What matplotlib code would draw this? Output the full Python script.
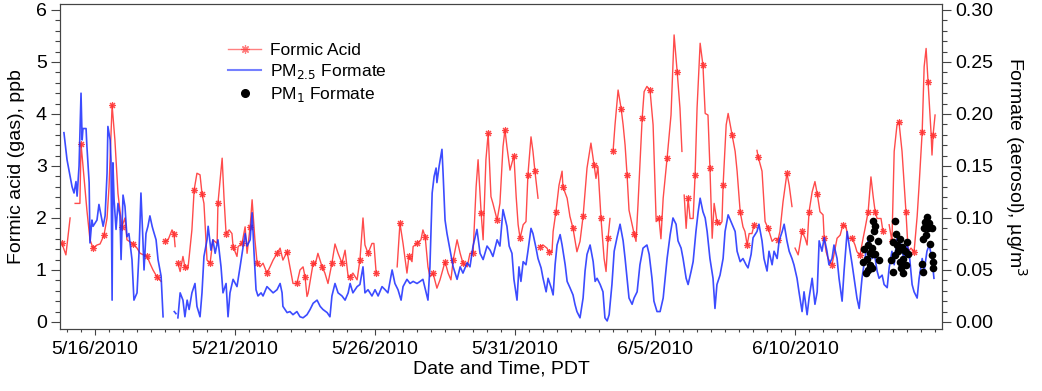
import numpy as np
import matplotlib
matplotlib.use("Agg")
import matplotlib.pyplot as plt
import matplotlib.dates as mdates
from matplotlib.ticker import FixedLocator, MultipleLocator, FormatStrFormatter
from matplotlib.lines import Line2D
from datetime import datetime

nan = np.nan

# days since 5/16/2010 00:00 PDT, value
formic_acid_ppb = [
    (-1.18, 1.51), (-1.04, 1.29), (-0.89, 2.0), (-0.80, nan), (-0.71, 2.28), (-0.54, 2.28),
    (-0.50, 3.43), (-0.29, 2.15), (-0.18, 1.58), (-0.07, 1.42), (0.07, 1.48), (0.18, 1.5),
    (0.32, 1.67), (0.43, 2.0), (0.50, 2.6), (0.61, 4.17), (0.71, 3.5), (0.82, 2.47),
    (0.96, 1.83), (1.07, 2.0), (1.14, 1.58), (1.36, 1.5), (1.50, 1.42), (1.61, 1.32),
    (1.86, 1.26), (1.96, 1.13), (2.07, 1.0), (2.21, 0.87), (2.36, 0.78), (2.43, nan),
    (2.50, 1.55), (2.61, 1.58), (2.75, 1.77), (2.82, 1.7), (2.86, 1.45), (2.91, nan),
    (2.96, 1.13), (3.04, 0.97), (3.14, 1.26), (3.21, 1.06), (3.32, 1.03), (3.46, 1.77),
    (3.54, 2.54), (3.64, 2.86), (3.75, 2.83), (3.82, 2.47), (3.89, 2.28), (4.00, 1.19),
    (4.11, 1.13), (4.21, 1.58), (4.36, 1.51), (4.39, 2.28), (4.54, 3.15), (4.61, 2.35),
    (4.68, 1.7), (4.79, 1.77), (4.89, 1.7), (4.93, 1.45), (5.07, 1.26), (5.11, 1.45),
    (5.25, 1.51), (5.36, 1.83), (5.43, 1.32), (5.54, 1.83), (5.61, 2.35), (5.71, 1.58),
    (5.79, 1.13), (5.89, 1.06), (6.00, 1.13), (6.14, 0.94), (6.25, 1.06), (6.36, 1.19),
    (6.50, 1.32), (6.61, 1.42), (6.71, 1.19), (6.86, 1.35), (6.96, 1.06), (7.07, 0.74),
    (7.21, 0.74), (7.32, 1.0), (7.43, 1.06), (7.50, 0.87), (7.57, 0.49), (7.61, 0.55),
    (7.79, 1.13), (7.86, 1.1), (7.96, 1.32), (8.11, 1.06), (8.21, 0.94), (8.32, 0.74),
    (8.46, 1.13), (8.57, 1.5), (8.68, 1.32), (8.82, 1.13), (8.93, 1.38), (9.04, 0.87),
    (9.11, 0.87), (9.21, 0.94), (9.36, 0.81), (9.46, 1.19), (9.57, 2.0), (9.64, 1.48),
    (9.75, 1.32), (9.89, 1.51), (9.96, 1.51), (10.04, 0.94), (10.40, nan), (10.79, 1.06),
    (10.89, 1.9), (11.00, 1.51), (11.14, 0.94), (11.21, 1.26), (11.32, 1.16), (11.36, 1.45),
    (11.50, 1.51), (11.64, 1.58), (11.71, 1.77), (11.79, 1.64), (11.89, 1.06), (11.96, 0.87),
    (12.07, 0.94), (12.21, 0.65), (12.32, 0.81), (12.50, 1.16), (12.61, 0.94), (12.71, 0.81),
    (12.79, 1.19), (12.93, 1.58), (13.04, 1.32), (13.14, 1.13), (13.29, 1.06), (13.39, 1.32),
    (13.50, 1.32), (13.61, 2.6), (13.68, 3.12), (13.79, 2.09), (13.86, 1.58), (13.96, 3.12),
    (14.04, 3.63), (14.14, 2.41), (14.21, 2.28), (14.36, 1.96), (14.46, 2.28), (14.57, 3.37),
    (14.64, 3.7), (14.71, 3.37), (14.82, 2.92), (14.96, 3.2), (15.04, 2.41), (15.11, 1.87),
    (15.18, 1.61), (15.29, 1.87), (15.39, 1.93), (15.46, 2.83), (15.57, 3.56), (15.64, 3.28),
    (15.71, 2.9), (15.82, 2.38), (15.85, nan), (15.89, 1.45), (16.00, 1.48), (16.14, 1.42),
    (16.21, 1.35), (16.32, 1.35), (16.36, 1.74), (16.46, 2.12), (16.57, 2.63), (16.68, 2.9),
    (16.71, 2.6), (16.86, 2.38), (16.96, 2.03), (17.07, 1.8), (17.21, 1.35), (17.32, 1.55),
    (17.43, 2.03), (17.57, 2.96), (17.71, 3.44), (17.82, 3.02), (17.89, 2.76), (17.96, 2.99),
    (18.07, 1.99), (18.18, 1.22), (18.25, 0.97), (18.32, 1.61), (18.39, 1.99), (18.45, nan),
    (18.50, 3.28), (18.57, 3.79), (18.68, 4.46), (18.79, 4.1), (18.86, 3.79), (18.93, 3.4),
    (19.00, 2.83), (19.07, 2.15), (19.18, 1.87), (19.25, 1.7), (19.32, 1.55), (19.39, 2.25),
    (19.54, 3.92), (19.61, 4.43), (19.71, 4.53), (19.82, 4.46), (19.93, 3.79), (20.04, 1.93),
    (20.14, 2.0), (20.21, 1.6), (20.29, 2.38), (20.43, 3.15), (20.57, 3.98), (20.68, 5.52),
    (20.79, 4.81), (20.89, 4.11), (20.96, 3.28), (21.00, nan), (21.04, 2.44), (21.11, 1.8),
    (21.18, 2.38), (21.25, 1.99), (21.36, 1.99), (21.43, 2.83), (21.50, 4.11), (21.61, 5.36),
    (21.71, 4.94), (21.79, 4.01), (21.89, 3.98), (21.96, 2.96), (22.04, 1.61), (22.11, 2.28),
    (22.21, 1.93), (22.32, 1.87), (22.39, 1.93), (22.43, 2.63), (22.54, 3.79), (22.61, 4.01),
    (22.75, 3.6), (22.86, 3.28), (22.93, 2.9), (23.04, 2.12), (23.14, 1.83), (23.21, 1.74),
    (23.29, 1.48), (23.36, 1.7), (23.46, 1.7), (23.54, 1.87), (23.60, nan), (23.64, 3.3),
    (23.68, 3.18), (23.82, 2.9), (23.93, 1.93), (24.04, 1.8), (24.18, 1.55), (24.29, 1.61),
    (24.39, 1.58), (24.46, 1.74), (24.57, 2.31), (24.71, 2.86), (24.79, 2.63), (24.89, 2.22),
    (24.95, nan), (25.00, 1.42), (25.11, 1.29), (25.25, 1.74), (25.36, 1.61), (25.43, 1.48),
    (25.50, 2.12), (25.61, 2.5), (25.71, 2.7), (25.79, 2.47), (25.89, 2.12), (26.00, 2.06),
    (26.04, 1.61), (26.11, 1.35), (26.18, 1.22), (26.32, 1.1), (26.50, 1.61), (26.61, 1.67),
    (26.71, 1.87), (26.82, 1.83), (26.89, 1.61), (27.04, 1.61), (27.14, 1.48), (27.21, 1.35),
    (27.32, 1.29), (27.43, 1.61), (27.50, 1.8), (27.61, 2.12), (27.71, 2.79), (27.79, 2.41),
    (27.86, 2.12), (27.93, 1.99), (28.07, 1.99), (28.14, 1.74), (28.25, nan), (28.36, 1.87),
    (28.46, 1.55), (28.54, 3.28), (28.64, 3.79), (28.71, 3.85), (28.82, 3.28), (28.89, 2.7),
    (28.96, 2.12), (29.04, 1.35), (29.14, 1.42), (29.25, 1.35), (29.36, 2.03), (29.43, 2.63),
    (29.54, 3.66), (29.61, 4.91), (29.68, 5.26), (29.75, 4.62), (29.86, 3.6), (29.89, 3.21),
    (29.93, 3.6), (30.00, 3.98),
]

# days since 5/16/2010, ug/m3
pm25_formate = [
    (-1.11, .182), (-1.00, .156), (-0.93, .146), (-0.82, .130), (-0.75, .124), (-0.68, .135),
    (-0.64, .121), (-0.57, .150), (-0.50, .220), (-0.46, .175), (-0.43, .186), (-0.32, .186),
    (-0.29, .169), (-0.21, .134), (-0.18, .076), (-0.11, .098), (-0.07, .092), (0.07, .098),
    (0.14, .113), (0.25, .098), (0.29, .092), (0.36, .102), (0.43, .143), (0.46, .188),
    (0.54, .175), (0.57, .156), (0.61, .021), (0.64, .153), (0.68, .118), (0.75, .089),
    (0.82, .114), (0.89, .102), (0.93, .060), (1.00, .122), (1.07, .111), (1.14, .082),
    (1.21, .085), (1.32, .060), (1.39, .021), (1.50, .028), (1.57, .066), (1.64, .124),
    (1.71, .079), (1.75, .050), (1.82, .085), (1.89, .092), (1.96, .102), (2.04, .092),
    (2.07, .089), (2.18, .079), (2.25, .060), (2.36, .044), (2.43, .005), (2.60, nan),
    (2.83, .010), (2.89, .008), (2.92, nan),
    (2.96, .004), (3.04, .028), (3.14, .021), (3.21, .005), (3.29, .021), (3.36, .012),
    (3.46, .028), (3.57, .037), (3.64, .015), (3.75, .005), (3.82, .028), (3.89, .063),
    (4.00, .079), (4.04, .092), (4.14, .069), (4.21, .079), (4.29, .066), (4.39, .079),
    (4.50, .053), (4.57, .028), (4.68, .037), (4.75, .005), (4.82, .028), (4.93, .041),
    (5.07, .034), (5.18, .053), (5.29, .073), (5.36, .085), (5.43, .073), (5.54, .079),
    (5.61, .105), (5.68, .066), (5.75, .031), (5.82, .025), (5.93, .028), (6.00, .025),
    (6.14, .034), (6.25, .031), (6.36, .028), (6.50, .031), (6.61, .037), (6.68, .028),
    (6.71, .015), (6.86, .009), (6.96, .010), (7.07, .007), (7.21, .010), (7.32, .005),
    (7.43, .004), (7.57, .007), (7.68, .012), (7.79, .018), (7.93, .021), (8.04, .015),
    (8.14, .012), (8.29, .009), (8.39, .005), (8.46, .025), (8.57, .037), (8.68, .028),
    (8.82, .025), (8.93, .021), (9.04, .028), (9.11, .037), (9.21, .028), (9.36, .034),
    (9.46, .036), (9.57, .053), (9.64, .028), (9.75, .031), (9.89, .025), (10.00, .031),
    (10.11, .025), (10.25, .034), (10.36, .031), (10.46, .028), (10.61, .050), (10.71, .037),
    (10.82, .031), (10.93, .021), (11.00, .034), (11.14, .041), (11.25, .037), (11.36, .039),
    (11.50, .037), (11.61, .039), (11.71, .041), (11.89, .021), (11.96, .053), (12.04, .124),
    (12.11, .140), (12.18, .148), (12.21, .134), (12.29, .150), (12.39, .166), (12.43, .143),
    (12.50, .098), (12.57, .085), (12.61, .079), (12.68, .069), (12.79, .053), (12.93, .041),
    (13.04, .053), (13.14, .047), (13.29, .057), (13.39, .053), (13.50, .073), (13.64, .089),
    (13.75, .066), (13.86, .060), (14.00, .073), (14.11, .069), (14.21, .063), (14.36, .079),
    (14.46, .073), (14.57, .108), (14.71, .092), (14.79, .073), (14.89, .066), (14.96, .041),
    (15.07, .021), (15.14, .053), (15.21, .039), (15.29, .058), (15.39, .055), (15.46, .068),
    (15.57, .090), (15.64, .085), (15.75, .071), (15.82, .061), (15.93, .052), (16.00, .042),
    (16.11, .029), (16.18, .042), (16.29, .033), (16.36, .026), (16.43, .055), (16.50, .074),
    (16.61, .084), (16.68, .074), (16.79, .055), (16.86, .039), (16.96, .033), (17.07, .026),
    (17.14, .017), (17.21, .010), (17.32, .004), (17.43, .023), (17.50, .049), (17.57, .065),
    (17.68, .074), (17.79, .058), (17.86, .039), (17.93, .042), (18.04, .036), (18.14, .029),
    (18.21, .004), (18.29, .001), (18.36, .007), (18.46, .036), (18.54, .068), (18.64, .081),
    (18.75, .094), (18.86, .078), (18.93, .061), (19.00, .042), (19.07, .023), (19.18, .017),
    (19.25, .023), (19.36, .029), (19.46, .055), (19.57, .071), (19.71, .074), (19.79, .065),
    (19.89, .042), (19.96, .020), (20.07, .010), (20.18, .010), (20.29, .023), (20.43, .061),
    (20.54, .084), (20.64, .100), (20.75, .094), (20.82, .078), (20.93, .071), (21.00, .061),
    (21.11, .042), (21.18, .036), (21.29, .049), (21.36, .058), (21.46, .087), (21.54, .106),
    (21.61, .119), (21.71, .106), (21.79, .100), (21.86, .087), (21.96, .061), (22.07, .042),
    (22.14, .013), (22.21, .036), (22.32, .045), (22.43, .061), (22.50, .087), (22.61, .103),
    (22.75, .094), (22.86, .087), (22.93, .068), (23.04, .058), (23.14, .061), (23.25, .055),
    (23.32, .052), (23.43, .065), (23.50, .081), (23.64, .087), (23.71, .094), (23.82, .078),
    (23.89, .061), (24.00, .049), (24.07, .068), (24.18, .055), (24.25, .068), (24.36, .061),
    (24.43, .078), (24.54, .087), (24.61, .094), (24.71, .078), (24.79, .068), (24.89, .061),
    (24.96, .055), (25.07, .042), (25.14, .029), (25.25, .010), (25.32, .029), (25.43, .007),
    (25.50, .023), (25.61, .042), (25.71, .017), (25.79, .029), (25.86, .078), (25.96, .068),
    (26.04, .081), (26.14, .068), (26.21, .055), (26.32, .061), (26.39, .074), (26.50, .061),
    (26.57, .042), (26.68, .020), (26.75, .049), (26.86, .087), (26.93, .074), (27.04, .055),
    (27.11, .042), (27.21, .023), (27.29, .013), (27.39, .042), (27.46, .055), (27.57, .074),
    (27.64, .081), (27.75, .061), (27.82, .068), (27.93, .049), (28.00, .042), (28.11, .045),
    (28.18, .036), (28.29, .033), (28.36, .052), (28.46, .068), (28.54, .055), (28.64, .081),
    (28.71, .084), (28.82, .068), (28.89, .061), (29.00, .074), (29.07, .068), (29.18, .036),
    (29.25, .029), (29.36, .023), (29.43, .042), (29.54, .061), (29.61, .049), (29.71, .068),
    (29.79, .074), (29.89, .061), (29.96, .042),
]

# days since 5/16/2010, ug/m3
pm1_formate = [
    (27.43, .058), (27.46, .070), (27.54, .047), (27.57, .061), (27.61, .074), (27.61, .050),
    (27.68, .081), (27.68, .066), (27.68, .055), (27.75, .071), (27.75, .052), (27.77, .097),
    (27.79, .065), (27.82, .087), (27.86, .092), (27.86, .065), (27.96, .078), (28.00, .060),
    (28.43, .060), (28.50, .077), (28.50, .048), (28.57, .097), (28.57, .064), (28.61, .085),
    (28.64, .074), (28.68, .068), (28.75, .080), (28.75, .058), (28.79, .052), (28.82, .072),
    (28.86, .061), (28.86, .047), (28.93, .068), (28.96, .055), (29.00, .077), (29.04, .065),
    (29.54, .056), (29.57, .080), (29.57, .048), (29.61, .090), (29.64, .096), (29.68, .084),
    (29.71, .101), (29.75, .090), (29.79, .095), (29.82, .075), (29.89, .090), (29.89, .064),
    (29.93, .058), (29.93, .052),
]

tick_days = [0, 5, 10, 15, 20, 25]
tick_labels = ["5/16/2010", "5/21/2010", "5/26/2010", "5/31/2010", "6/5/2010", "6/10/2010"]

day0 = mdates.date2num(datetime(2010, 5, 16))

fa = np.array(formic_acid_ppb).T
pm25 = np.array(pm25_formate).T
pm1 = np.array(pm1_formate).T

plt.rcParams['font.family'] = ['Liberation Sans', 'DejaVu Sans']
plt.rcParams['font.size'] = 14

fig = plt.figure(figsize=(10.42, 3.91), dpi=100)
ax1 = fig.add_axes([0.0576, 0.1586, 0.8465, 0.8312])
ax2 = ax1.twinx()

red = '#ff2b2b'
blue = '#1a2cff'

ax1.plot(day0 + fa[0], fa[1], color=red, lw=1.0, alpha=0.85,
         marker=(8, 2, 0), markersize=5, markeredgewidth=0.8, markevery=3)
ax2.plot(day0 + pm25[0], pm25[1], color=blue, lw=1.2, alpha=0.85)
ax2.plot(day0 + pm1[0], pm1[1], 'o', color='black', markersize=5.5, markeredgewidth=0)

ax1.set_xlim(day0 - 1.25, day0 + 30.25)
ax1.set_ylim(-0.135, 6.115)
ax2.set_ylim(-0.00675, 0.30575)

ax1.xaxis.set_major_locator(FixedLocator([day0 + d for d in tick_days]))
ax1.set_xticklabels(tick_labels)
ax1.xaxis.set_minor_locator(MultipleLocator(0.5))
ax1.yaxis.set_major_locator(MultipleLocator(1))
ax1.yaxis.set_minor_locator(MultipleLocator(0.2))
ax2.yaxis.set_major_locator(MultipleLocator(0.05))
ax2.yaxis.set_minor_locator(MultipleLocator(0.01))
ax2.yaxis.set_major_formatter(FormatStrFormatter('%.2f'))

for ax in (ax1, ax2):
    for s in ax.spines.values():
        s.set_linewidth(0.8)
        s.set_color('#444444')
    ax.tick_params(which='both', direction='out', color='#444444', width=0.8)
ax1.tick_params(axis='y', which='major', length=6.5, pad=3)
ax1.tick_params(axis='y', which='minor', length=3.5)
ax1.tick_params(axis='x', which='major', length=4.5, pad=4)
ax1.tick_params(axis='x', which='minor', length=2.5)
ax2.tick_params(axis='y', which='major', length=6.5, pad=3)
ax2.tick_params(axis='y', which='minor', length=3.5)

ax1.set_xlabel('Date and Time, PDT', labelpad=2)
ax1.set_ylabel('Formic acid (gas), ppb', labelpad=8)
ax2.set_ylabel('Formate (aerosol), µg/m$^3$', rotation=270, labelpad=26)

handles = [
    Line2D([], [], color=red, lw=1.0, alpha=0.6, marker=(8, 2, 0), markersize=6,
           markeredgewidth=0.9),
    Line2D([], [], color=blue, lw=1.5, alpha=0.6),
    Line2D([], [], color='black', ls='none', marker='o', markersize=5.5),
]
ax2.legend(handles, ['Formic Acid', 'PM$_{2.5}$ Formate', 'PM$_1$ Formate'],
           loc='upper left', bbox_to_anchor=(0.191, 0.88), frameon=False, fontsize=12.5,
           handlelength=1.85, handletextpad=0.55, labelspacing=0.24,
           borderpad=0, borderaxespad=0)

fig.savefig('out.png', dpi=100)
